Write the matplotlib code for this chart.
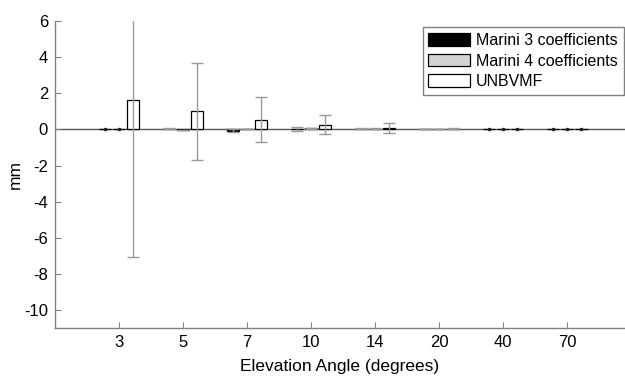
import numpy as np
import matplotlib.pyplot as plt

plt.rcParams['font.family'] = ['Liberation Sans', 'DejaVu Sans']
plt.rcParams['axes.unicode_minus'] = False

angles = ['3', '5', '7', '10', '14', '20', '40', '70']
series = ['Marini 3 coefficients', 'Marini 4 coefficients', 'UNBVMF']
marini3 = [0.0, 0.05, -0.07, 0.03, 0.05, 0.02, 0.0, 0.0]
marini3_err = [0.0, 0.03, 0.07, 0.10, 0.03, 0.02, 0.0, 0.0]
marini4 = [0.0, -0.02, 0.02, 0.06, 0.05, 0.02, 0.0, 0.0]
marini4_err = [0.0, 0.01, 0.02, 0.04, 0.03, 0.02, 0.0, 0.0]
unbvmf = [1.62, 1.0, 0.55, 0.27, 0.10, 0.04, 0.0, 0.0]
unbvmf_err = [8.65, 2.7, 1.27, 0.54, 0.27, 0.04, 0.0, 0.0]

values = [marini3, marini4, unbvmf]
errors = [marini3_err, marini4_err, unbvmf_err]
colors = ['black', '#d3d3d3', 'white']

fig = plt.figure(figsize=(6.25, 3.77), dpi=100)
ax = fig.add_axes([55 / 625, 48.7 / 377, 570 / 625, 307.3 / 377])

x = np.arange(1, len(angles) + 1)
offsets = [-0.22, 0.0, 0.22]
width = 0.19
ax.axhline(0, color='#555555', lw=1.0, zorder=1)
for vals, errs, col, off, name in zip(values, errors, colors, offsets, series):
    vals = np.array(vals)
    errs = np.array(errs)
    ax.bar(x + off, vals, width, color=col, edgecolor='black', linewidth=0.9, label=name, zorder=2)
    nz = errs > 0
    eb = ax.errorbar(x[nz] + off, vals[nz], yerr=errs[nz], fmt='none', ecolor='#999999',
                     elinewidth=1.0, capsize=4.5, capthick=1.0, zorder=3)
    for cap in eb[1]:
        cap.set_color('#333333')
    z = (errs == 0) & (vals == 0)
    ax.plot(x[z] + off, vals[z], 's', ms=1.4, color='#222222', zorder=4)

ax.set_xlim(0, 8.9)
ax.set_ylim(-11, 6)
ax.set_xticks(x)
ax.set_xticklabels(angles)
ax.set_yticks(range(-10, 7, 2))
ax.tick_params(direction='in', length=4, color='#808080', labelsize=12, pad=5)
for s in ['top', 'right']:
    ax.spines[s].set_visible(False)
for s in ['left', 'bottom']:
    ax.spines[s].set_color('#808080')
    ax.spines[s].set_linewidth(1.0)

ax.set_xlabel('Elevation Angle (degrees)', fontsize=12.5, labelpad=6)
ax.set_ylabel('mm', fontsize=12.5, labelpad=1)

leg = ax.legend(loc='upper left', bbox_to_anchor=(422.7 / 625, 1 - 27.3 / 377),
                bbox_transform=fig.transFigure, fontsize=11.5, frameon=True, fancybox=False,
                framealpha=1, edgecolor='#808080', handlelength=2.6, handleheight=0.85,
                handletextpad=0.4, labelspacing=0.36, borderpad=0.35, borderaxespad=0)
leg.get_frame().set_linewidth(1.0)

fig.savefig('out.png', dpi=100)
